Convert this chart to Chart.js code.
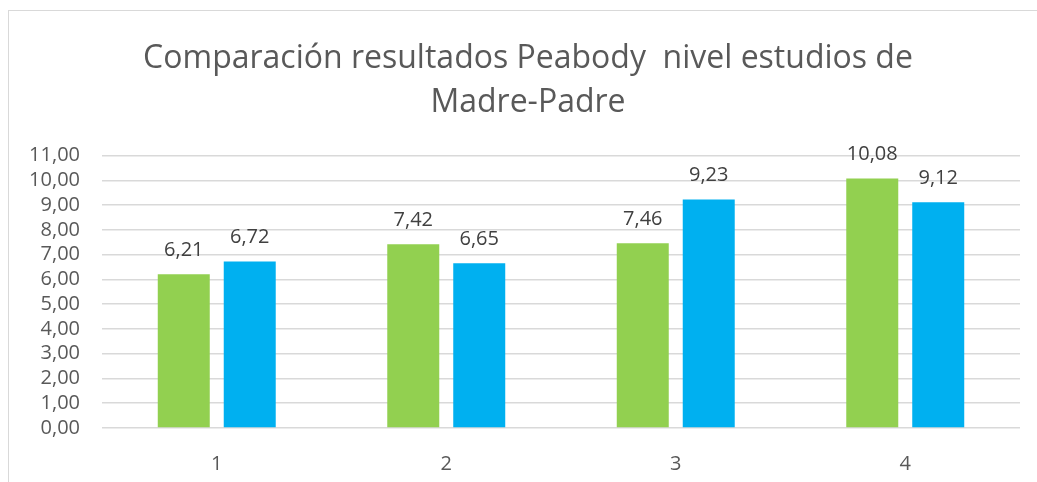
<!DOCTYPE html>
<html>
<head>
<meta charset="utf-8">
<script src="https://cdn.jsdelivr.net/npm/chart.js@4.4.0/dist/chart.umd.min.js"></script>
<style>
  body { margin: 0; background: #fff; overflow: hidden; }
  #frame { position: absolute; left: 8px; top: 10px; width: 1100px; height: 600px; border: 1px solid #d9d9d9; }
  #c { position: absolute; left: 0; top: 0; }
</style>
</head>
<body>
<div id="frame"></div>
<canvas id="c" width="1037" height="482"></canvas>
<script>
// datos del grafico
var categorias = ["1", "2", "3", "4"];
var serieMadre = [6.21, 7.42, 7.46, 10.08];
var seriePadre = [6.72, 6.65, 9.23, 9.12];
var titulo = ["Comparación resultados Peabody  nivel estudios de", "Madre-Padre"];

var fuente = "'Open Sans', 'DejaVu Sans', sans-serif";

function coma(v) {
  return v.toFixed(2).replace(".", ",");
}

// etiquetas encima de cada barra
var etiquetas = {
  id: "etiquetas",
  afterLayout: function (chart) {
    // el titulo va centrado en el marco, no en el area de la grafica
    if (chart.titleBlock) chart.titleBlock.left = 36;
  },
  afterDatasetsDraw: function (chart) {
    var ctx = chart.ctx;
    ctx.save();
    ctx.font = "20px " + fuente;
    ctx.fillStyle = "#404040";
    ctx.textAlign = "center";
    ctx.textBaseline = "middle";
    chart.data.datasets.forEach(function (ds, i) {
      chart.getDatasetMeta(i).data.forEach(function (bar, k) {
        ctx.fillText(coma(ds.data[k]), bar.x, bar.y - 24);
      });
    });
    ctx.restore();
  }
};

var ctx = document.getElementById("c").getContext("2d");
var grafico = new Chart(ctx, {
  type: "bar",
  data: {
    labels: categorias,
    datasets: [
      { label: "Madre", data: serieMadre, backgroundColor: "#92d050" },
      { label: "Padre", data: seriePadre, backgroundColor: "#00b0f0" }
    ]
  },
  options: {
    responsive: false,
    animation: false,
    events: [],
    layout: { padding: { top: 10, left: 8, right: 17, bottom: 0 } },
    datasets: { bar: { categoryPercentage: 0.575, barPercentage: 0.788 } },
    plugins: {
      legend: { display: false },
      tooltip: { enabled: false },
      title: {
        display: true,
        text: titulo,
        color: "#595959",
        font: { family: fuente, size: 32, weight: "normal", lineHeight: 1.4 },
        padding: { top: 26, bottom: 30 }
      }
    },
    scales: {
      x: {
        grid: { display: false, drawTicks: false },
        border: { display: false },
        ticks: { color: "#595959", font: { family: fuente, size: 20 }, padding: 24 },
        afterFit: function (s) { s.height = 54; }
      },
      y: {
        min: 0,
        max: 11,
        ticks: {
          stepSize: 1,
          autoSkip: false,
          color: "#595959",
          font: { family: fuente, size: 20 },
          padding: 22,
          callback: function (v) { return coma(v); }
        },
        grid: { color: "#d9d9d9", lineWidth: 1.5, drawTicks: false },
        border: { display: false },
        afterFit: function (s) { s.width = 94; }
      }
    }
  },
  plugins: [etiquetas]
});
</script>
</body>
</html>
